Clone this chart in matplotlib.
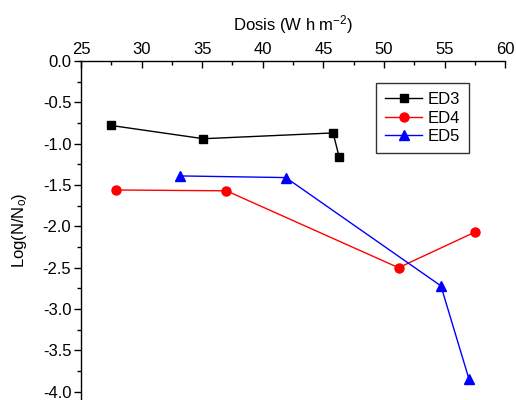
import matplotlib
matplotlib.use("Agg")
import matplotlib.pyplot as plt
from matplotlib.ticker import MultipleLocator

plt.rcParams['font.family'] = ['Liberation Sans', 'DejaVu Sans']
plt.rcParams['axes.unicode_minus'] = False
plt.rcParams['mathtext.fontset'] = 'custom'
plt.rcParams['mathtext.rm'] = 'Liberation Sans'
plt.rcParams['mathtext.default'] = 'regular'

# Dose (W h m^-2) and log survival for each treatment
ed3_dose = [27.5, 35.1, 45.8, 46.3]
ed3_log = [-0.78, -0.94, -0.87, -1.16]

ed4_dose = [27.9, 37.0, 51.2, 57.5]
ed4_log = [-1.56, -1.57, -2.50, -2.07]

ed5_dose = [33.2, 41.9, 54.7, 57.0]
ed5_log = [-1.39, -1.41, -2.72, -3.84]

x_ticks = [25, 30, 35, 40, 45, 50, 55, 60]
y_ticks = [0.0, -0.5, -1.0, -1.5, -2.0, -2.5, -3.0, -3.5, -4.0]

fig = plt.figure(figsize=(5.16, 4.0), dpi=100)
ax = fig.add_axes([0.157, 0.0, 0.822, 0.8475])

ax.plot(ed3_dose, ed3_log, color='black', lw=1.0, marker='s', ms=5.5, label='ED3')
ax.plot(ed4_dose, ed4_log, color='red', lw=1.0, marker='o', ms=6.5, label='ED4')
ax.plot(ed5_dose, ed5_log, color='blue', lw=1.0, marker='^', ms=6.5, label='ED5')

ax.set_xlim(25, 60)
ax.set_ylim(-4.1, 0)

ax.xaxis.tick_top()
ax.xaxis.set_label_position('top')
ax.set_xticks(x_ticks)
ax.set_xticklabels([str(v) for v in x_ticks])
ax.set_yticks(y_ticks)
ax.set_yticklabels([f"{v:.1f}" for v in y_ticks])
ax.xaxis.set_minor_locator(MultipleLocator(2.5))
ax.yaxis.set_minor_locator(MultipleLocator(0.25))

ax.spines['right'].set_visible(False)
ax.spines['bottom'].set_visible(False)
for s in ('left', 'top'):
    ax.spines[s].set_linewidth(1.0)

ax.tick_params(axis='x', which='major', direction='in', length=5, width=1.0,
               labelsize=12, pad=3, top=True, bottom=False)
ax.tick_params(axis='x', which='minor', direction='in', length=3, width=1.0,
               top=True, bottom=False)
ax.tick_params(axis='y', which='major', direction='out', length=5, width=1.0,
               labelsize=12, pad=2)
ax.tick_params(axis='y', which='minor', direction='out', length=3, width=1.0)

ax.set_xlabel('Dosis (W h m$^{-2}$)', fontsize=12, labelpad=8)
ax.set_ylabel('Log(N/N$_{o}$)', fontsize=12, labelpad=10)

leg = ax.legend(loc='upper left', bbox_to_anchor=(0.696, 0.935), fontsize=12,
                frameon=True, fancybox=False, edgecolor='black',
                handlelength=2.2, handletextpad=0.35, borderpad=0.55,
                labelspacing=0.2, borderaxespad=0)
leg.get_frame().set_linewidth(1.0)

fig.savefig('out.png', dpi=100)
